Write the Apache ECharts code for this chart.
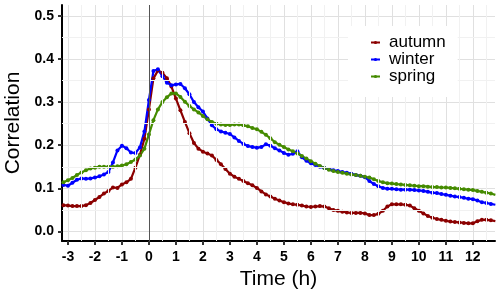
<!DOCTYPE html>
<html><head><meta charset="utf-8">
<script src="https://cdn.jsdelivr.net/npm/echarts@6/dist/echarts.min.js"></script>
<style>html,body{margin:0;padding:0;background:#fff}#c{width:500px;height:299px}</style>
</head><body><div id="c"></div>
<script>
// time in minutes relative to event
const timeMin = [-190,-180,-170,-160,-150,-140,-130,-120,-110,-100,-90,-80,-70,-60,-50,-40,-30,-20,-10,
0,10,20,30,40,50, 60,70,80,90,100,110, 120,130,140,150,160,170, 180,190,200,210,220,230,
240,250,260,270,280,290, 300,310,320,330,340,350, 360,370,380,390,400,410, 420,430,440,450,460,470,
480,490,500,510,520,530, 540,550,560,570,580,590, 600,610,620,630,640,650, 660,670,680,690,700,710,
720,730,740,750,760,770];
const autumn = [0.061,0.060,0.059,0.059,0.059,0.061,0.066,0.073,0.080,0.088,0.094,0.102,0.101,0.109,0.114,0.122,0.148,0.178,0.215,
0.283,0.355,0.373,0.368,0.355,0.336,
0.308,0.281,0.254,0.228,0.205,0.192,
0.185,0.181,0.176,0.166,0.156,0.145,
0.134,0.127,0.122,0.117,0.112,0.107,
0.101,0.093,0.086,0.081,0.076,0.072,
0.068,0.065,0.063,0.062,0.060,0.058,
0.057,0.058,0.059,0.058,0.054,0.050,
0.048,0.046,0.044,0.043,0.043,0.043,
0.042,0.038,0.038,0.041,0.048,0.058,
0.063,0.063,0.063,0.062,0.060,0.054,
0.048,0.042,0.036,0.032,0.029,0.027,
0.025,0.023,0.022,0.021,0.020,0.019,
0.019,0.024,0.027,0.027,0.026,0.024];
const winter = [0.108,0.106,0.113,0.120,0.123,0.122,0.123,0.125,0.128,0.132,0.138,0.160,0.188,0.199,0.193,0.183,0.182,0.195,0.232,
0.305,0.372,0.376,0.360,0.345,0.339,
0.341,0.342,0.332,0.318,0.300,0.288,
0.278,0.262,0.246,0.237,0.232,0.229,
0.226,0.218,0.210,0.203,0.198,0.196,
0.194,0.196,0.202,0.199,0.193,0.188,
0.182,0.178,0.180,0.186,0.172,0.164,
0.158,0.154,0.150,0.147,0.145,0.142,
0.140,0.138,0.136,0.134,0.131,0.129,
0.126,0.117,0.110,0.105,0.101,0.099,
0.099,0.098,0.097,0.097,0.097,0.096,
0.095,0.094,0.092,0.090,0.089,0.087,
0.085,0.083,0.081,0.080,0.078,0.076,
0.075,0.072,0.068,0.066,0.064,0.062];
const spring = [0.114,0.119,0.124,0.131,0.137,0.142,0.146,0.148,0.150,0.150,0.150,0.150,0.151,0.153,0.156,0.161,0.167,0.176,0.192,
0.225,0.258,0.283,0.300,0.311,0.320,
0.320,0.312,0.301,0.291,0.283,0.276,
0.268,0.260,0.254,0.250,0.248,0.247,
0.247,0.248,0.248,0.246,0.244,0.240,
0.237,0.231,0.224,0.216,0.207,0.201,
0.196,0.190,0.186,0.181,0.175,0.169,
0.163,0.157,0.152,0.147,0.143,0.140,
0.138,0.136,0.134,0.132,0.131,0.129,
0.127,0.125,0.121,0.117,0.114,0.112,
0.111,0.110,0.109,0.108,0.107,0.106,
0.105,0.105,0.104,0.103,0.103,0.102,
0.102,0.101,0.100,0.099,0.098,0.097,
0.096,0.094,0.092,0.090,0.088,0.085];
const seriesNames = ['autumn','winter','spring'];
const seriesColors = ['#8B0000','#0000FF','#458B00'];
const xTicks = [-3,-2,-1,0,1,2,3,4,5,6,7,8,9,10,11,12];
const yTicks = [0,0.1,0.2,0.3,0.4,0.5];
const xMinor = [-2.5,-1.5,-0.5,0.5,1.5,2.5,3.5,4.5,5.5,6.5,7.5,8.5,9.5,10.5,11.5,12.5];
const yMinor = [0.05,0.15,0.25,0.35,0.45];

const times = timeMin.map(m => m / 60);
const pair = arr => arr.map((v, i) => [times[i], v]);
const font = '"Liberation Sans", Arial, sans-serif';

const chart = echarts.init(document.getElementById('c'), null, {renderer: 'canvas'});
const dataSeries = [autumn, winter, spring].map((arr, i) => ({
  name: seriesNames[i], type: 'line', data: pair(arr), z: 3,
  color: seriesColors[i],
  symbol: 'circle', symbolSize: 4, showSymbol: true, showAllSymbol: true,
  lineStyle: {width: 2.2, color: seriesColors[i]},
  itemStyle: {color: seriesColors[i], borderWidth: 0},
  emphasis: {disabled: true},
  animation: false
}));
const gridSeries = {
  type: 'line', data: [], z: 1, silent: true, animation: false,
  markLine: {
    silent: true, symbol: 'none', animation: false, label: {show: false},
    lineStyle: {color: '#f1f1f1', width: 1, type: 'solid'},
    emphasis: {disabled: true},
    data: xMinor.map(v => ({xAxis: v})).concat(yMinor.map(v => ({yAxis: v})))
  }
};
const zeroSeries = {
  type: 'line', data: [], z: 2, silent: true, animation: false,
  markLine: {
    silent: true, symbol: 'none', animation: false, label: {show: false},
    lineStyle: {color: '#555555', width: 1, type: 'solid'},
    emphasis: {disabled: true},
    data: [{xAxis: 0}]
  }
};

chart.setOption({
  animation: false,
  backgroundColor: '#ffffff',
  grid: {left: 62, right: 5, top: 5, bottom: 58, containLabel: false, outerBoundsMode: 'none'},
  legend: {
    data: seriesNames, orient: 'vertical', left: 348, top: 26, z: 10,
    padding: [8, 12, 12, 22], backgroundColor: '#ffffff',
    itemWidth: 9, itemHeight: 4, itemGap: 0,
    itemStyle: {borderWidth: 0},
    textStyle: {fontFamily: font, fontSize: 17, color: '#000', lineHeight: 16.3, padding: [0, 0, 0, 4]}
  },
  xAxis: {
    type: 'value', min: -3.22, max: 12.82,
    name: 'Time (h)', nameLocation: 'middle', nameGap: 28,
    nameTextStyle: {fontFamily: font, fontSize: 21, color: '#000'},
    axisLine: {show: true, onZero: false, lineStyle: {color: '#000', width: 2}},
    axisTick: {show: true, length: 4, customValues: xTicks, lineStyle: {color: '#333', width: 2}},
    axisLabel: {customValues: xTicks, margin: 9, fontFamily: font, fontSize: 14, fontWeight: 'bold', color: '#000',
      formatter: v => String(Math.round(v))},
    splitLine: {show: true, lineStyle: {color: '#e0e0e0', width: 1}}
  },
  yAxis: {
    type: 'value', min: -0.022, max: 0.525,
    name: 'Correlation', nameLocation: 'middle', nameGap: 37,
    nameTextStyle: {fontFamily: font, fontSize: 21, color: '#000'},
    axisLine: {show: true, onZero: false, lineStyle: {color: '#000', width: 2}},
    axisTick: {show: true, length: 4, customValues: yTicks, lineStyle: {color: '#333', width: 2}},
    axisLabel: {customValues: yTicks, margin: 8, fontFamily: font, fontSize: 14, fontWeight: 'bold', color: '#000',
      formatter: v => v.toFixed(1)},
    splitLine: {show: true, lineStyle: {color: '#e0e0e0', width: 1}}
  },
  series: [gridSeries, zeroSeries].concat(dataSeries)
});
</script></body></html>
